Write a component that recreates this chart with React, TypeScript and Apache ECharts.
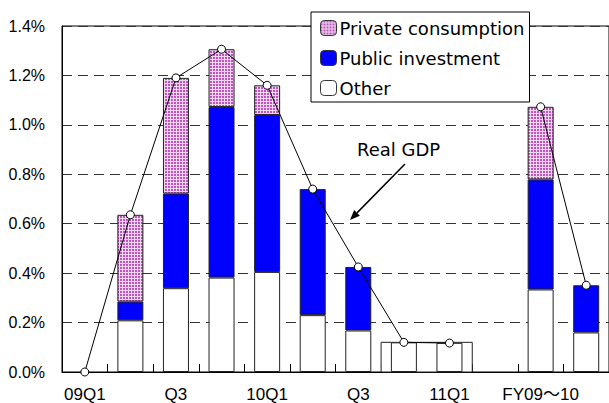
import React, { useEffect, useRef } from "react";
import * as echarts from "echarts";

const categories = ["09Q1", "09Q2", "09Q3", "09Q4", "10Q1", "10Q2", "10Q3", "10Q4", "11Q1", "gap", "FY09", "FY10"];
const tickLabels = ["09Q1", "", "Q3", "", "10Q1", "", "Q3", "", "11Q1", "", "FY09～10", ""];
const otherValues = [null, 0.209, 0.339, 0.382, 0.405, 0.23, 0.168, 0.12, 0.118, null, 0.334, 0.16];
const publicValues = [null, 0.076, 0.383, 0.69, 0.635, 0.51, 0.257, null, null, null, 0.445, 0.191];
const privateValues = [null, 0.351, 0.468, 0.234, 0.12, null, null, null, null, null, 0.294, null];
const gdpValues = [0, 0.636, 1.19, 1.306, 1.16, 0.74, 0.425, 0.12, 0.117, null, 1.073, 0.351];
const yTicks = { min: 0, max: 1.4, interval: 0.2 };

const FONT = "'Liberation Sans', Arial, sans-serif";
const WIDE_FONT = "'DejaVu Sans', 'Liberation Sans', sans-serif";
const XFONT = "'Liberation Sans', 'Noto Sans CJK JP', sans-serif";

function makePattern(): string {
  const c = document.createElement("canvas");
  c.width = 3;
  c.height = 3;
  const ctx = c.getContext("2d")!;
  ctx.fillStyle = "#f2d6f2";
  ctx.fillRect(0, 0, 3, 3);
  ctx.fillStyle = "#bb55bb";
  ctx.fillRect(0, 0, 2, 2);
  return c.toDataURL();
}

export default function App() {
  const ref = useRef<HTMLDivElement>(null);
  useEffect(() => {
    if (!ref.current) return;
    const chart = echarts.init(ref.current, undefined, { renderer: "svg" });
    const pattern = { image: makePattern(), repeat: "repeat", imageWidth: 3, imageHeight: 3 } as any;
    const barBorder = { borderColor: "#222", borderWidth: 1 };
    const tip = [350, 220];
    const from = [405, 164];
    const dx = tip[0] - from[0];
    const dy = tip[1] - from[1];
    const len = Math.sqrt(dx * dx + dy * dy);
    const ux = dx / len;
    const uy = dy / len;
    const ah = 10;
    const aw = 4;
    const base = [tip[0] - ux * ah, tip[1] - uy * ah];
    const arrow = [
      tip,
      [base[0] - uy * aw, base[1] + ux * aw],
      [base[0] + uy * aw, base[1] - ux * aw],
    ];
    chart.setOption({
      animation: false,
      textStyle: { fontFamily: FONT },
      grid: {
        left: 62,
        right: -9,
        top: 26,
        bottom: 31,
        show: true,
        borderColor: "#000",
        borderWidth: 1,
      },
      legend: {
        orient: "vertical",
        left: 311,
        top: 12,
        padding: [7, 5, 5, 9],
        itemGap: 12,
        itemWidth: 16,
        itemHeight: 15,
        backgroundColor: "#fff",
        borderColor: "#000",
        borderWidth: 1,
        z: 10,
        textStyle: { fontSize: 18, color: "#000", fontFamily: WIDE_FONT, padding: [0, 0, 0, -2] },
        data: [
          { name: "Private consumption", itemStyle: { borderColor: "#333", borderWidth: 1 } },
          { name: "Public investment", itemStyle: { borderColor: "#333", borderWidth: 1 } },
          { name: "Other", itemStyle: { borderColor: "#333", borderWidth: 1 } },
        ],
      },
      xAxis: {
        type: "category",
        data: categories,
        boundaryGap: true,
        axisLine: { lineStyle: { color: "#000", width: 1 } },
        axisTick: { show: true, inside: true, length: 8, interval: 0, lineStyle: { color: "#000" } },
        axisLabel: {
          interval: 0,
          fontSize: 17,
          color: "#000",
          margin: 14,
          fontFamily: XFONT,
          formatter: (_v: string, i: number) => tickLabels[i],
        },
      },
      yAxis: {
        type: "value",
        min: yTicks.min,
        max: yTicks.max,
        interval: yTicks.interval,
        axisLine: { show: true, lineStyle: { color: "#000" } },
        axisTick: { show: false },
        axisLabel: {
          fontSize: 16,
          color: "#000",
          margin: 17,
          fontFamily: FONT,
          formatter: (v: number) => v.toFixed(1) + "%",
        },
        splitLine: { show: true, lineStyle: { color: "#333", type: [10, 6], width: 1 } },
      },
      series: [
        {
          name: "Other",
          type: "bar",
          stack: "a",
          barWidth: 26,
          data: otherValues,
          itemStyle: { color: "#fff", ...barBorder },
          markArea: {
            silent: true,
            itemStyle: { color: "#fff", borderColor: "#222", borderWidth: 1 },
            data: [[{ xAxis: "10Q4", yAxis: 0 }, { xAxis: "11Q1", yAxis: otherValues[7] }]],
          },
        },
        {
          name: "Public investment",
          type: "bar",
          stack: "a",
          barWidth: 26,
          data: publicValues,
          itemStyle: { color: "#0000ff", ...barBorder },
        },
        {
          name: "Private consumption",
          type: "bar",
          stack: "a",
          barWidth: 26,
          data: privateValues,
          itemStyle: { color: pattern, ...barBorder },
        },
        {
          name: "Real GDP",
          type: "line",
          data: gdpValues,
          connectNulls: false,
          symbol: "circle",
          symbolSize: 8,
          z: 5,
          lineStyle: { color: "#000", width: 1 },
          itemStyle: { color: "#fff", borderColor: "#000", borderWidth: 1 },
        },
      ],
      graphic: [
        {
          type: "text",
          left: 357,
          top: 140,
          z: 20,
          style: { text: "Real GDP", fontSize: 18, fill: "#000", fontFamily: WIDE_FONT },
        },
        {
          type: "line",
          z: 20,
          shape: { x1: from[0], y1: from[1], x2: base[0], y2: base[1] },
          style: { stroke: "#000", lineWidth: 1.5 },
        },
        {
          type: "polygon",
          z: 20,
          shape: { points: arrow },
          style: { fill: "#000" },
        },
      ],
    });
    return () => chart.dispose();
  }, []);
  return <div ref={ref} style={{ width: 609, height: 403, position: "absolute", left: 0, top: 0 }} />;
}
